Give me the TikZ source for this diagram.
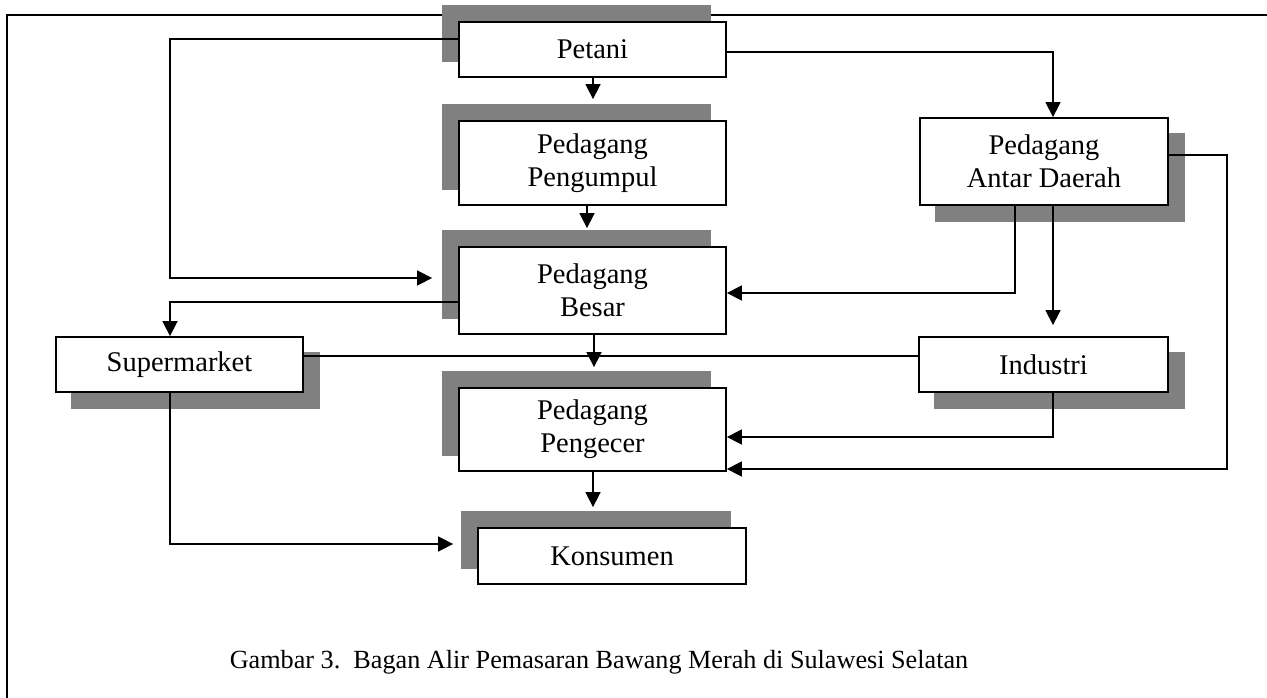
\documentclass[tikz,border=0pt]{standalone}
\usepackage{fontspec}
\setmainfont{Liberation Serif}
\usetikzlibrary{arrows.meta,shadows}
\definecolor{shadowgray}{HTML}{808080}
\begin{document}
\begin{tikzpicture}[x=1pt,y=-1pt,
  box/.style={draw, fill=white, line width=1.8pt, inner sep=0pt, align=center,
    font=\fontsize{28.5}{33}\selectfont},
  shadowUL/.style={general shadow={fill=shadowgray, draw=shadowgray, line width=1.8pt, shadow xshift=-16pt, shadow yshift=16pt}},
  shadowDR/.style={general shadow={fill=shadowgray, draw=shadowgray, line width=1.8pt, shadow xshift=16pt, shadow yshift=-16pt}},
  conn/.style={line width=1.6pt},
  arr/.style={conn, -{Triangle[length=15pt,width=15pt]}}]
\useasboundingbox (0,0) rectangle (1267,698);
% frame
\draw[line width=2pt] (7,698) -- (7,15) -- (1267,15);
% nodes
\node[box, shadowUL, minimum width=267pt, minimum height=55pt] (petani) at (592.5,49.5) {Petani};
\node[box, shadowUL, minimum width=267pt, minimum height=84pt] (pengumpul) at (592.5,163) {Pedagang\\Pengumpul};
\node[box, shadowUL, minimum width=267pt, minimum height=87pt] (besar) at (592.5,290.5) {Pedagang\\Besar};
\node[box, shadowUL, minimum width=267pt, minimum height=83pt] (pengecer) at (592.5,429.5) {Pedagang\\Pengecer};
\node[box, shadowUL, minimum width=268pt, minimum height=56pt] (konsumen) at (612,556) {Konsumen};
\node[box, shadowDR, minimum width=248pt, minimum height=87pt] (pad) at (1044,161.5) {Pedagang\\Antar Daerah};
\node[box, shadowDR, minimum width=247pt, minimum height=55pt] (super) at (179.5,364.5) {Supermarket};
\node[box, shadowDR, minimum width=249pt, minimum height=55pt] (industri) at (1043.5,364.5) {Industri};
% connectors
\draw[arr, shorten >=26pt] (petani.west |- 0,39) -- (170,39) -- (170,278) -- (besar.west |- 0,278);
\draw[arr] (petani.east |- 0,52) -| (1053,0 |- pad.north);
\draw[arr, shorten >=21pt] (593,0 |- petani.south) -- (593,0 |- pengumpul.north);
\draw[arr, shorten >=18pt] (587,0 |- pengumpul.south) -- (587,0 |- besar.north);
\draw[arr] (besar.west |- 0,302) -| (170,0 |- super.north);
\draw[conn] (super.east |- 0,356) -- (industri.west |- 0,356);
\draw[arr, shorten >=20pt] (594,0 |- besar.south) -- (594,0 |- pengecer.north);
\draw[arr] (1015,0 |- pad.south) |- (besar.east |- 0,293);
\draw[arr, shorten >=11pt] (1053,0 |- pad.south) -- (1053,0 |- industri.north);
\draw[arr] (pad.east |- 0,155) -- (1227,155) -- (1227,469) -- (pengecer.east |- 0,469);
\draw[arr] (1053,0 |- industri.south) |- (pengecer.east |- 0,437);
\draw[arr, shorten >=20pt] (593,0 |- pengecer.south) -- (593,0 |- konsumen.north);
\draw[arr, shorten >=24pt] (170,0 |- super.south) |- (konsumen.west |- 0,544);
% caption
\node[anchor=base, inner sep=0pt, font=\fontsize{26.2}{30}\selectfont] (caption) at (599,668) {Gambar 3.\ \ Bagan Alir Pemasaran Bawang Merah di Sulawesi Selatan};
\end{tikzpicture}
\end{document}
